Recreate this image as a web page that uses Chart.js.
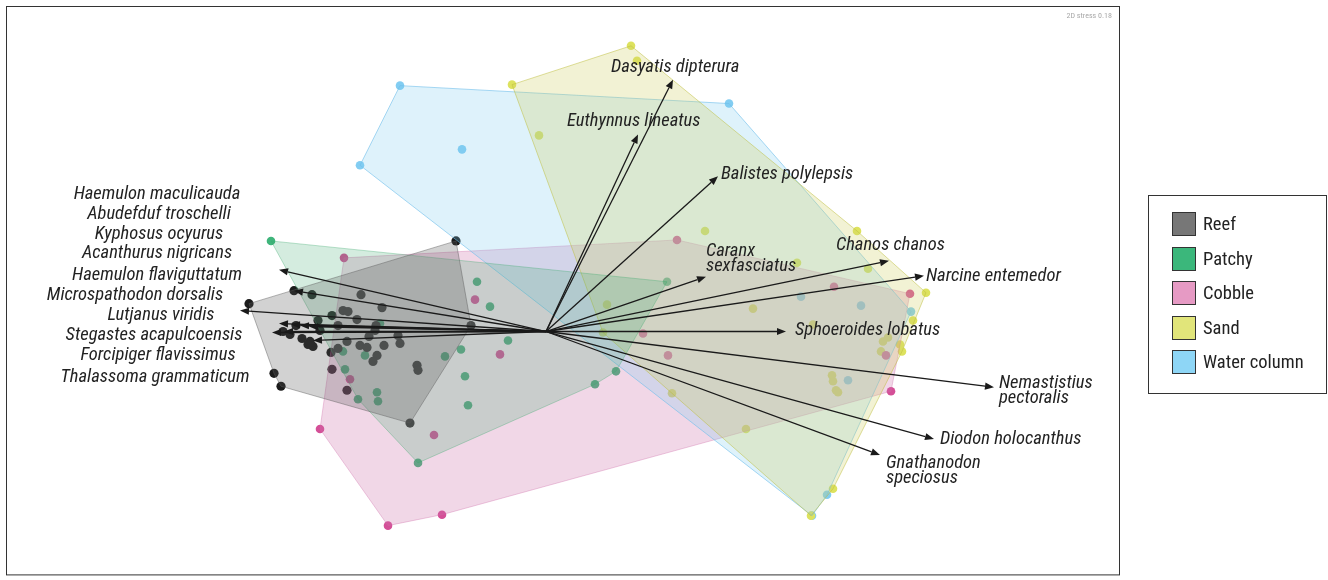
<!DOCTYPE html>
<html>
<head>
<meta charset="utf-8">
<script src="https://cdn.jsdelivr.net/npm/chart.js@4.4.1/dist/chart.umd.min.js"></script>
<style>
html,body{margin:0;padding:0;background:#fff;}
#wrap{position:relative;width:1328px;height:580px;overflow:hidden;}
canvas{position:absolute;left:0;top:0;}
#legend{position:absolute;left:1148px;top:195px;width:179px;height:199px;border:1px solid #333;box-sizing:border-box;font-family:'Liberation Sans Narrow','Arial Narrow','Roboto Condensed','DejaVu Sans Condensed',sans-serif;}
.item{position:absolute;left:23px;height:26px;display:flex;align-items:center;}
.sw{width:24px;height:24px;border:1px solid #333;box-sizing:border-box;}
.item span{margin-left:7px;font-size:18.5px;color:#222;}
</style>
</head>
<body>
<div id="wrap">
<canvas id="c" width="1328" height="580"></canvas>
<div id="legend"></div>
</div>
<script>
// ---------- data (NMDS-like axis units) ----------
const groups = ['Reef', 'Patchy', 'Cobble', 'Sand', 'Water column'];

const reefPts = [
  [-0.90,0.91],[-2.52,0.41],[-2.97,0.28],[-2.34,0.37],[-1.85,0.37],[-1.64,0.24],[-2.03,0.21],[-1.98,0.20],
  [-2.14,0.16],[-2.28,0.11],[-1.89,0.12],[-2.08,0.06],[-1.70,0.06],[-0.75,0.06],[-2.63,0.00],[-2.26,0.01],
  [-1.71,0.01],[-1.48,-0.04],[-2.44,-0.07],[-2.36,-0.10],[-2.33,-0.15],[-2.38,-0.13],[-1.77,-0.05],[-1.99,-0.10],
  [-1.62,-0.14],[-1.46,-0.12],[-1.86,-0.14],[-1.79,-0.16],[-2.08,-0.17],[-2.15,-0.21],[-1.69,-0.24],[-1.73,-0.30],
  [-1.29,-0.34],[-1.28,-0.39],[-2.14,-0.38],[-1.99,-0.59],[-2.72,-0.42],[-2.65,-0.55],[-1.36,-0.92],[-2.56,-0.03],
  [-2.50,0.06]
];
const patchyPts = [
  [-2.75,0.91],[-1.66,0.08],[-0.69,0.50],[-0.56,0.25],[1.21,0.50],[-0.38,-0.09],[-0.85,-0.18],[-1.01,-0.25],
  [-0.81,-0.45],[-0.78,-0.74],[0.70,-0.40],[0.49,-0.53],[-1.28,-1.32],[-2.01,-0.38],[-1.81,-0.24],[-1.69,-0.61],
  [-1.68,-0.70],[-1.88,-0.68],[-2.03,-0.20]
];
const cobblePts = [
  [-2.02,0.74],[-0.71,0.32],[1.31,0.92],[2.88,0.45],[3.64,0.38],[0.97,-0.02],[-0.46,-0.23],[1.22,-0.24],
  [3.40,-0.24],[3.45,-0.60],[-1.96,-0.48],[-2.26,-0.98],[-1.12,-1.04],[-1.04,-1.84],[-1.58,-1.95]
];
const sandPts = [
  [0.85,2.87],[0.91,2.72],[-0.34,2.48],[-0.07,1.97],[1.59,1.01],[3.11,1.01],[2.51,0.69],[3.22,0.63],
  [3.80,0.39],[0.61,0.27],[2.07,0.23],[3.67,0.11],[2.67,0.07],[0.57,-0.01],[3.37,-0.10],[3.42,-0.06],
  [3.35,-0.20],[3.56,-0.20],[3.54,-0.13],[2.86,-0.44],[2.87,-0.50],[2.90,-0.59],[2.92,-0.61],[1.26,-0.62],
  [2.00,-0.98],[2.87,-1.58],[2.65,-1.85]
];
const waterPts = [
  [-1.46,2.47],[1.83,2.29],[-1.86,1.67],[-0.84,1.83],[2.55,0.35],[3.15,0.26],[3.65,0.20],[3.02,-0.49],
  [2.81,-1.64],[2.66,-1.85]
];

// species vectors (arrow tips, from origin 0,0)
const speciesNames = [
  'Dasyatis dipterura','Euthynnus lineatus','Balistes polylepsis','Caranx\nsexfasciatus','Chanos chanos',
  'Narcine entemedor','Sphoeroides lobatus','Nemastistius\npectoralis','Diodon holocanthus','Gnathanodon\nspeciosus',
  'Haemulon maculicauda','Abudefduf troschelli','Kyphosus ocyurus','Acanthurus nigricans','Haemulon flaviguttatum',
  'Microspathodon dorsalis','Lutjanus viridis','Stegastes acapulcoensis','Forcipiger flavissimus','Thalassoma grammaticum'
];
const vectorX = [1.27,0.92,1.72,1.60,3.43,3.78,2.40,4.48,3.88,3.34,
                 -2.67,-2.52,-3.06,-2.67,-2.55,-2.46,-2.37,-2.74,-2.62,-2.33];
const vectorY = [2.53,1.98,1.56,0.55,0.71,0.56,0.00,-0.56,-1.08,-1.24,
                 0.62,0.41,0.21,0.08,0.07,0.06,0.05,-0.01,0.00,-0.09];

const stressLabel = '2D stress 0.18';

// ---------- layout (label anchors in axis units, kept apart from data) ----------
const labelLayout = [
  [0.65,2.65,'left'],[0.21,2.11,'left'],[1.75,1.58,'left'],[1.60,0.81,'left'],[2.90,0.87,'left'],
  [3.80,0.55,'left'],[2.49,0.01,'left'],[4.53,-0.52,'left'],[3.94,-1.08,'left'],[3.40,-1.32,'left'],
  [-3.89,1.38,'center'],[-3.87,1.18,'center'],[-3.87,0.98,'center'],[-3.89,0.78,'center'],[-3.89,0.56,'center'],
  [-4.11,0.36,'center'],[-3.85,0.16,'center'],[-3.92,-0.04,'center'],[-3.88,-0.24,'center'],[-3.91,-0.46,'center']
];

const FONT = "'Liberation Sans Narrow','Arial Narrow','Roboto Condensed','DejaVu Sans Condensed',sans-serif";
const pointColors = ['#1b1b1b','#3fb57b','#d44f97','#dde25e','#82cdf2'];
const hullFill   = ['rgba(90,90,90,0.27)','rgba(60,170,110,0.22)','rgba(205,110,170,0.28)','rgba(210,210,100,0.28)','rgba(125,205,240,0.25)'];
const hullLine   = ['rgba(90,90,90,0.45)','rgba(60,170,110,0.35)','rgba(205,110,170,0.35)','rgba(190,190,60,0.5)','rgba(110,190,235,0.6)'];
const hullOrder  = [0, 1, 4, 2, 3];   // reef on top, cobble at the bottom
const legendColors = ['#777777','#3bb77b','#e69ac4','#e1e57a','#8ed6f6'];

// ---------- helpers ----------
function convexHull(pts) {
  const p = pts.map(a => ({x:a[0], y:a[1]})).sort((a,b) => a.x - b.x || a.y - b.y);
  const cross = (o,a,b) => (a.x-o.x)*(b.y-o.y) - (a.y-o.y)*(b.x-o.x);
  const lower = [], upper = [];
  for (const q of p) { while (lower.length >= 2 && cross(lower[lower.length-2], lower[lower.length-1], q) <= 0) lower.pop(); lower.push(q); }
  for (let i = p.length-1; i >= 0; i--) { const q = p[i]; while (upper.length >= 2 && cross(upper[upper.length-2], upper[upper.length-1], q) <= 0) upper.pop(); upper.push(q); }
  upper.pop(); lower.pop();
  const h = lower.concat(upper);
  h.push({x:h[0].x, y:h[0].y});
  return h;
}

const allPts = [reefPts, patchyPts, cobblePts, sandPts, waterPts];
const datasets = [];
allPts.forEach((pts, i) => {
  datasets.push({
    label: groups[i] + ' hull',
    data: convexHull(pts),
    showLine: true,
    fill: 'shape',
    tension: 0,
    backgroundColor: hullFill[i],
    borderColor: hullLine[i],
    borderWidth: 1,
    pointRadius: 0,
    order: hullOrder[i]
  });
});
allPts.forEach((pts, i) => {
  datasets.push({
    label: groups[i],
    data: pts.map(a => ({x:a[0], y:a[1]})),
    pointRadius: i === 0 ? 4.6 : 4.3,
    pointBackgroundColor: pointColors[i],
    pointBorderWidth: 0,
    borderWidth: 0,
    order: 10 + i
  });
});

const overlay = {
  id: 'overlay',
  afterDatasetsDraw(chart) {
    const {ctx, chartArea: ca, scales: {x, y}} = chart;
    const ox = x.getPixelForValue(0), oy = y.getPixelForValue(0);
    ctx.save();
    // arrows
    ctx.strokeStyle = '#1a1a1a';
    ctx.fillStyle = '#1a1a1a';
    ctx.lineWidth = 1.3;
    for (let i = 0; i < vectorX.length; i++) {
      const tx = x.getPixelForValue(vectorX[i]), ty = y.getPixelForValue(vectorY[i]);
      const ang = Math.atan2(ty - oy, tx - ox);
      const hl = 9, hw = 3.6;
      const bx = tx - hl * Math.cos(ang), by = ty - hl * Math.sin(ang);
      ctx.beginPath(); ctx.moveTo(ox, oy); ctx.lineTo(bx, by); ctx.stroke();
      ctx.beginPath();
      ctx.moveTo(tx, ty);
      ctx.lineTo(bx + hw * Math.sin(ang), by - hw * Math.cos(ang));
      ctx.lineTo(bx - hw * Math.sin(ang), by + hw * Math.cos(ang));
      ctx.closePath(); ctx.fill();
    }
    // labels
    ctx.fillStyle = '#222';
    ctx.font = 'italic 18.5px ' + FONT;
    ctx.textBaseline = 'middle';
    for (let i = 0; i < speciesNames.length; i++) {
      const [lx, ly, al] = labelLayout[i];
      const px = x.getPixelForValue(lx), py = y.getPixelForValue(ly);
      ctx.textAlign = al;
      speciesNames[i].split('\n').forEach((line, k) => {
        ctx.fillText(line, px, py + k * 15);
      });
    }
    // frame
    ctx.strokeStyle = '#333';
    ctx.lineWidth = 1;
    ctx.strokeRect(ca.left + 0.5, ca.top + 0.5, ca.right - ca.left - 1, ca.bottom - ca.top - 1);
    // stress
    ctx.fillStyle = '#a8a8a8';
    ctx.font = '8px ' + FONT;
    ctx.textAlign = 'right';
    ctx.fillText(stressLabel, ca.right - 8, ca.top + 10);
    ctx.restore();
  }
};

new Chart(document.getElementById('c'), {
  type: 'scatter',
  data: { datasets },
  options: {
    responsive: false,
    animation: false,
    devicePixelRatio: 1,
    layout: { padding: { left: 6, right: 208, top: 6, bottom: 2 } },
    scales: {
      x: { type: 'linear', min: -5.40, max: 5.74, display: false },
      y: { type: 'linear', min: -2.45, max: 3.27, display: false }
    },
    plugins: { legend: { display: false }, tooltip: { enabled: false } },
    elements: { line: { borderJoinStyle: 'round' } }
  },
  plugins: [overlay]
});

// legend
const lg = document.getElementById('legend');
groups.forEach((g, i) => {
  const d = document.createElement('div');
  d.className = 'item';
  d.style.top = (15 + i * 34.6) + 'px';
  d.innerHTML = '<div class="sw" style="background:' + legendColors[i] + '"></div><span>' + g + '</span>';
  lg.appendChild(d);
});
</script>
</body>
</html>
